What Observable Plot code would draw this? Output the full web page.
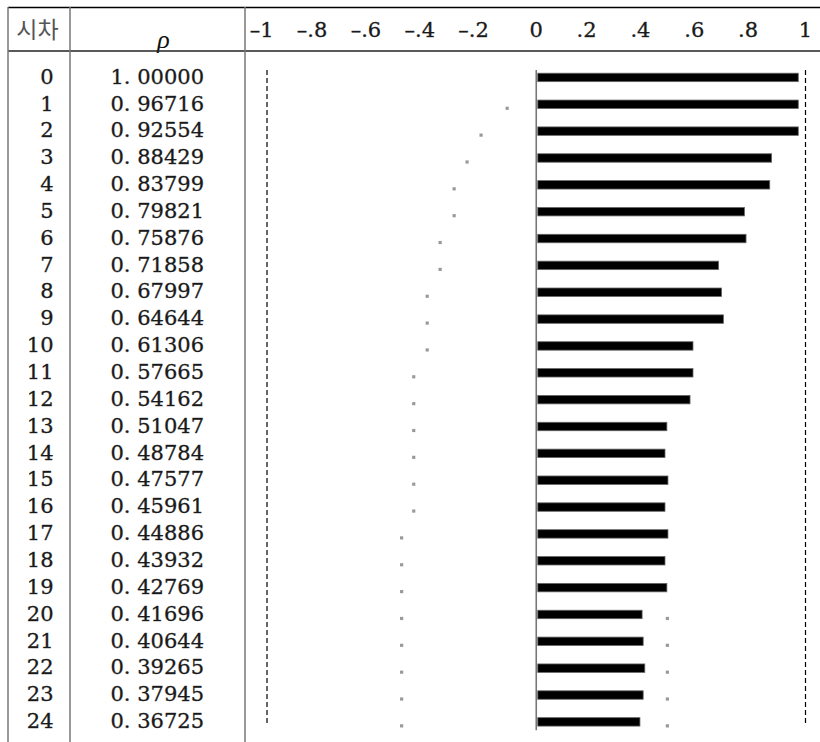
<!DOCTYPE html>
<html>
<head>
<meta charset="utf-8">
<script src="https://cdn.jsdelivr.net/npm/d3@7"></script>
<script src="https://cdn.jsdelivr.net/npm/@observablehq/plot@0.6"></script>
<style>
  body { margin: 0; background: #fff; }
  #chart svg { display: block; }
</style>
</head>
<body>
<div id="chart"></div>
<script>
// ---- data ----
const lags = [0, 1, 2, 3, 4, 5, 6, 7, 8, 9, 10, 11, 12, 13, 14, 15, 16, 17, 18, 19, 20, 21, 22, 23, 24];
const rho = [1.00000, 0.96716, 0.92554, 0.88429, 0.83799, 0.79821, 0.75876, 0.71858, 0.67997, 0.64644,
             0.61306, 0.57665, 0.54162, 0.51047, 0.48784, 0.47577, 0.45961, 0.44886, 0.43932, 0.42769,
             0.41696, 0.40644, 0.39265, 0.37945, 0.36725];
// bar lengths as printed (the original plot draws them in coarse character cells)
const barDrawn = [0.975, 0.975, 0.975, 0.876, 0.869, 0.775, 0.781, 0.679, 0.690, 0.697,
                  0.584, 0.584, 0.573, 0.487, 0.480, 0.491, 0.480, 0.491, 0.480, 0.487,
                  0.395, 0.399, 0.405, 0.399, 0.387];
// confidence band markers (grey dots)
const lowerLags = [1, 2, 3, 4, 5, 6, 7, 8, 9, 10, 11, 12, 13, 14, 15, 16, 17, 18, 19, 20, 21, 22, 23, 24];
const lowerBand = [-0.108, -0.205, -0.257, -0.305, -0.305, -0.357, -0.357, -0.405, -0.405, -0.405,
                   -0.455, -0.455, -0.455, -0.455, -0.455, -0.455, -0.50, -0.50, -0.50, -0.50,
                   -0.50, -0.50, -0.50, -0.50];
const upperLags = [20, 21, 22, 23, 24];
const upperBand = [0.487, 0.487, 0.487, 0.487, 0.487];
const tickValues = [-1, -0.8, -0.6, -0.4, -0.2, 0, 0.2, 0.4, 0.6, 0.8, 1];
const tickLabels = ["\u20131", "\u2013.8", "\u2013.6", "\u2013.4", "\u2013.2", "0", ".2", ".4", ".6", ".8", "1"];
const headLag = "시차";
const headRho = "ρ";

// ---- tables for the marks ----
const rows = lags.map((lag, i) => ({lag, rho: rho[i], bar: barDrawn[i]}));
const lower = lowerLags.map((lag, i) => ({lag, v: lowerBand[i]}));
const upper = upperLags.map((lag, i) => ({lag, v: upperBand[i]}));
const ticks = tickValues.map((v, i) => ({v, label: tickLabels[i]}));
const fmtRho = d => d3.format(".5f")(d).replace(".", ". ");

const serif = "DejaVu Serif";
const ink = "#1a1a1a";

const chart = Plot.plot({
  width: 820,
  height: 742,
  marginTop: 64,
  marginBottom: 6.7,
  marginLeft: 0,
  marginRight: 0,
  style: {fontFamily: serif, background: "#fff"},
  x: {domain: [-1, 1], range: [266.5, 805], axis: null},
  y: {type: "band", domain: lags, padding: 0, round: false, axis: null},
  marks: [
    Plot.ruleX([-1, 1], {stroke: "#000", strokeWidth: 1.2, strokeDasharray: "5,3", insetTop: 6, insetBottom: 10}),
    Plot.ruleX([0], {stroke: "#777", strokeWidth: 1.6, insetTop: 6, insetBottom: 5}),
    Plot.dot(lower, {x: "v", y: "lag", symbol: "square", r: 1.8, fill: "#999", stroke: null, dy: 3.5}),
    Plot.dot(upper, {x: "v", y: "lag", symbol: "square", r: 1.8, fill: "#999", stroke: null, dy: 3.5}),
    Plot.barX(rows, {x: "bar", y: "lag", fill: "#000", stroke: "#666", strokeWidth: 0.8,
                     insetTop: 9.2, insetBottom: 9.2, insetLeft: 2}),
    Plot.text(rows, {y: "lag", text: d => String(d.lag), frameAnchor: "left", textAnchor: "end",
                     dx: 53, dy: -1, fontSize: 21, fill: ink, stroke: "#444", strokeWidth: 0.35,
                     fontFamily: serif}),
    Plot.text(rows, {y: "lag", text: d => fmtRho(d.rho), frameAnchor: "left", textAnchor: "start",
                     dx: 110, dy: -1, fontSize: 21, fill: ink, stroke: "#444", strokeWidth: 0.35,
                     fontFamily: serif}),
    Plot.text(ticks, {x: "v", text: "label", frameAnchor: "top", textAnchor: "end", lineAnchor: "middle",
                      dx: 6.5, dy: -34, fontSize: 21, fill: ink, stroke: "#444", strokeWidth: 0.35,
                      fontFamily: serif}),
    Plot.text([headLag], {text: d => d, frameAnchor: "top-left", textAnchor: "middle", lineAnchor: "middle",
                          dx: 37, dy: -34, fontSize: 23, fill: "#555", fontFamily: "Noto Sans CJK KR"}),
    Plot.text([headRho], {text: d => d, frameAnchor: "top-left", textAnchor: "middle", lineAnchor: "middle",
                          dx: 163, dy: -25, fontSize: 26, fontStyle: "italic", fill: "#111",
                          fontFamily: "Liberation Serif"})
  ]
});

// table grid lines (structure of the printed table)
const svg = d3.select(chart);
const grid = svg.append("g").attr("fill", "none");
grid.append("line").attr("x1", 8).attr("x2", 820).attr("y1", 7.5).attr("y2", 7.5)
    .attr("stroke", "#000").attr("stroke-width", 1.5);
grid.append("line").attr("x1", 8).attr("x2", 820).attr("y1", 51).attr("y2", 51)
    .attr("stroke", "#222").attr("stroke-width", 1.5);
for (const gx of [8, 70, 245]) {
  grid.append("line").attr("x1", gx).attr("x2", gx).attr("y1", 7).attr("y2", 742)
      .attr("stroke", "#777").attr("stroke-width", 1.5);
}

document.getElementById("chart").append(chart);
</script>
</body>
</html>
